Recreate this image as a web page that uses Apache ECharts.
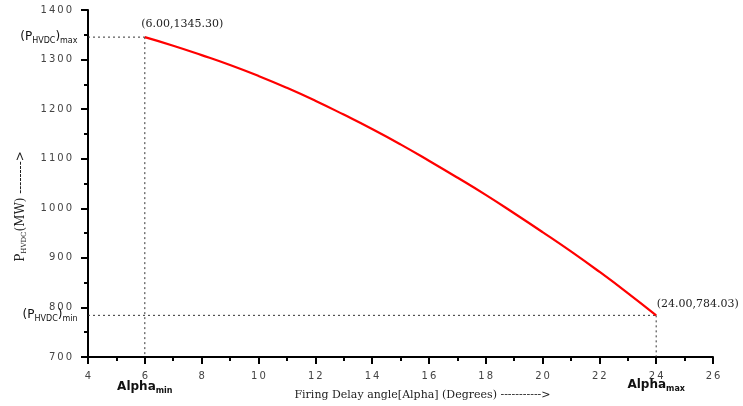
<!DOCTYPE html>
<html><head><meta charset="utf-8">
<script src="https://cdn.jsdelivr.net/npm/echarts@6/dist/echarts.min.js"></script>
<style>html,body{margin:0;padding:0;background:#fff}#c{width:743px;height:406px}</style>
</head><body><div id="c"></div>
<script>
// Data
const alpha = [6,7,8,9,10,11,12,13,14,15,16,17,18,19,20,21,22,23,24];
const power = [1345.3,1328,1309,1289,1267,1243,1217,1189,1160,1129,1096,1062,1027,990,952,913,872,829,784.03];
const xTicks = {min:4, max:26, interval:2};
const yTicks = {min:700, max:1400, interval:100};
const alphaMin = 6, alphaMax = 24, pMax = 1345.3, pMin = 784.03;

const chart = echarts.init(document.getElementById('c'));
const sans = 'DejaVu Sans';
const serif = 'DejaVu Serif';
const spaced = v => String(v).split('').join('\u2009');
const lineData = alpha.map((a,i)=>[a,power[i]]);
const refStyle = {color:'#333', width:1, type:[2,3]};
function ref(data){return {type:'line', data, symbol:'none', silent:true, lineStyle:refStyle, z:1};}
const subRich = {
  b:{fontFamily:sans, fontSize:12, color:'#111', fontWeight:'bold'},
  n:{fontFamily:sans, fontSize:12, color:'#111'},
  s:{fontFamily:sans, fontSize:8, color:'#111', padding:[8,0,0,0]},
  sb:{fontFamily:sans, fontSize:8, color:'#111', fontWeight:'bold', padding:[8,0,0,0]}
};
function mp(coord, label){return {coord, symbol:'circle', symbolSize:1, itemStyle:{color:'rgba(0,0,0,0)'}, label};}

chart.setOption({
  animation:false,
  backgroundColor:'#fff',
  grid:{left:88, right:30, top:10, bottom:45},
  xAxis:{
    type:'value', min:xTicks.min, max:xTicks.max, interval:xTicks.interval,
    name:'Firing Delay angle[Alpha] (Degrees) ----------->',
    nameLocation:'middle', nameGap:33,
    nameTextStyle:{fontFamily:serif, fontSize:11, color:'#222', padding:[0,0,0,44]},
    axisLine:{lineStyle:{color:'#000', width:2}},
    axisTick:{length:7, lineStyle:{color:'#000', width:2}},
    minorTick:{show:true, splitNumber:2, length:4, lineStyle:{color:'#000', width:2}},
    axisLabel:{fontFamily:sans, fontSize:10, color:'#444', margin:14, formatter:spaced},
    splitLine:{show:false}
  },
  yAxis:{
    type:'value', min:yTicks.min, max:yTicks.max, interval:yTicks.interval,
    name:'{n|P}{s|HVDC}{n|(MW) -------->}',
    nameLocation:'middle', nameGap:60, nameRotate:90,
    nameTextStyle:{padding:[0,46,0,0], rich:{n:{fontFamily:serif, fontSize:12, color:'#222'}, s:{fontFamily:serif, fontSize:7, color:'#222', padding:[7,0,0,0]}}},
    axisLine:{show:true, lineStyle:{color:'#000', width:2}},
    axisTick:{show:true, length:7, lineStyle:{color:'#000', width:2}},
    minorTick:{show:true, splitNumber:2, length:4, lineStyle:{color:'#000', width:2}},
    axisLabel:{fontFamily:sans, fontSize:10, color:'#444', margin:16, formatter:spaced},
    splitLine:{show:false}
  },
  series:[
    ref([[xTicks.min,pMax],[alphaMin,pMax]]),
    ref([[alphaMin,pMax],[alphaMin,yTicks.min]]),
    ref([[xTicks.min,pMin],[alphaMax,pMin]]),
    ref([[alphaMax,pMin],[alphaMax,yTicks.min]]),
    {
      type:'line', data:lineData, symbol:'none', smooth:true, z:3,
      lineStyle:{color:'#ff0000', width:2.2},
      markPoint:{
        silent:true,
        data:[
          mp([alphaMin,pMax],{show:true, position:[-3,-18], formatter:'('+alphaMin.toFixed(2)+','+pMax.toFixed(2)+')', fontFamily:serif, fontSize:11, color:'#222'}),
          mp([alphaMax,pMin],{show:true, position:[1,-16], formatter:'('+alphaMax.toFixed(2)+','+pMin.toFixed(2)+')', fontFamily:serif, fontSize:11, color:'#222'}),
          mp([xTicks.min,pMax],{show:true, position:'left', distance:10, formatter:'{n|(P}{s|HVDC}{n|)}{s|max}', rich:subRich}),
          mp([xTicks.min,pMin],{show:true, position:'left', distance:10, formatter:'{n|(P}{s|HVDC}{n|)}{s|min}', rich:subRich}),
          mp([alphaMin,yTicks.min],{show:true, position:'bottom', distance:21, formatter:'{b|Alpha}{sb|min}', rich:subRich}),
          mp([alphaMax,yTicks.min],{show:true, position:'bottom', distance:19, formatter:'{b|Alpha}{sb|max}', rich:subRich})
        ]
      }
    }
  ]
});
</script></body></html>
